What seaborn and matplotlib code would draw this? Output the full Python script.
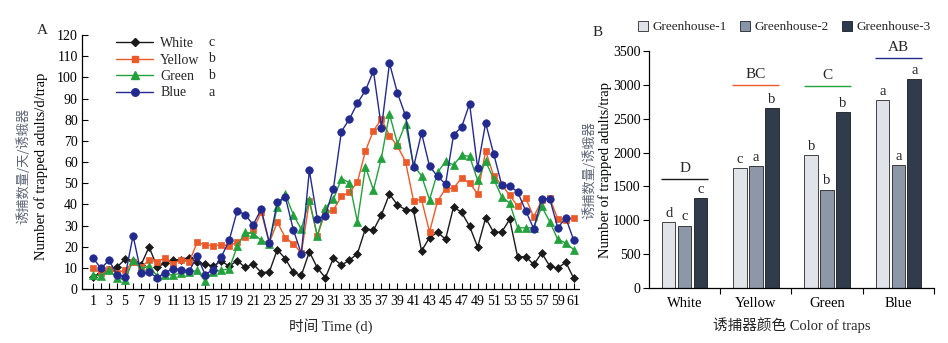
import matplotlib
matplotlib.use("Agg")
import matplotlib.pyplot as plt
import numpy as np
import pandas as pd
import seaborn as sns
from matplotlib.lines import Line2D
from matplotlib.patches import Patch

# ---------------- data: panel A (daily catches) ----------------
days = list(range(1, 62))
white = [5.8, 7.8, 9.0, 10.4, 14.0, 13.4, 11.4, 19.9, 10.5, 12.1,
         13.7, 13.9, 14.8, 12.7, 11.7, 10.8, 13.2, 10.8, 13.4, 10.2,
         11.8, 7.8, 8.0, 18.6, 14.3, 7.9, 6.4, 17.6, 10.0, 5.3,
         14.5, 11.3, 13.6, 16.7, 28.5, 27.8, 35.1, 44.9, 39.7, 37.5,
         37.1, 18.0, 24.3, 26.8, 23.5, 38.8, 36.2, 29.6, 19.8, 33.5,
         26.8, 26.9, 32.9, 15.1, 15.3, 11.6, 17.0, 10.8, 9.8, 12.7, 5.0]
yellow = [10.0, 7.4, 9.4, 7.6, 9.0, 12.7, 10.2, 13.7, 12.9, 14.7,
          12.0, 13.9, 12.7, 22.0, 20.9, 20.4, 21.0, 20.4, 22.2, 24.6,
          28.0, 36.3, 21.8, 31.6, 24.3, 21.4, 17.0, 41.5, 25.0, 36.5,
          37.3, 43.8, 45.7, 50.5, 65.2, 74.8, 80.2, 72.5, 67.5, 60.2,
          41.7, 42.3, 27.0, 41.5, 47.4, 47.7, 52.4, 50.0, 45.0, 65.2,
          53.5, 49.3, 44.3, 39.1, 43.0, 34.0, 41.9, 43.0, 33.1, 32.5, 33.6]
green = [6.8, 6.2, 8.8, 5.3, 4.3, 13.6, 9.5, 10.9, 6.2, 6.4,
         6.8, 7.4, 8.0, 8.8, 3.7, 8.0, 8.9, 9.5, 20.2, 26.8,
         26.2, 23.0, 21.5, 38.8, 44.8, 35.1, 28.2, 42.0, 25.0, 38.5,
         42.3, 52.2, 50.2, 31.8, 57.7, 46.8, 62.1, 82.7, 68.6, 78.0,
         58.7, 53.4, 42.2, 55.1, 60.3, 58.7, 63.1, 62.7, 51.3, 60.3,
         52.0, 43.6, 40.6, 28.9, 28.9, 28.9, 39.0, 31.8, 23.4, 21.8, 18.6]
blue = [14.7, 9.7, 13.6, 6.8, 5.8, 25.2, 7.6, 8.0, 5.3, 7.8,
        9.5, 9.2, 8.4, 15.5, 6.8, 9.2, 15.0, 23.0, 37.0, 35.0,
        30.4, 37.8, 21.8, 41.0, 43.5, 28.0, 16.7, 56.0, 33.0, 34.7,
        47.3, 74.4, 80.3, 87.8, 93.8, 103.0, 76.0, 106.7, 92.5, 82.0,
        57.6, 73.7, 58.0, 53.2, 49.6, 72.9, 76.5, 87.5, 57.2, 78.4,
        63.9, 49.3, 48.8, 45.8, 37.0, 28.5, 42.6, 42.6, 28.9, 33.6, 23.0]
trap_names = ["White", "Yellow", "Green", "Blue"]
line_letters = ["c", "b", "b", "a"]

# ---------------- data: panel B (totals per greenhouse) ----------------
greenhouses = ["Greenhouse-1", "Greenhouse-2", "Greenhouse-3"]
gh1 = [972, 1767, 1959, 2769]
gh2 = [923, 1797, 1453, 1811]
gh3 = [1325, 2651, 2592, 3078]
bar_letters = [["d", "c", "b", "a"],
               ["c", "a", "b", "a"],
               ["c", "b", "b", "a"]]
group_letters = ["D", "BC", "C", "AB"]
group_line_y = [1605, 2990, 2975, 3387]

# ---------------- style ----------------
sns.set_theme(style="ticks")
plt.rcParams["font.family"] = ["Liberation Serif", "Noto Sans CJK SC", "DejaVu Sans"]
plt.rcParams["axes.edgecolor"] = "black"
plt.rcParams["xtick.color"] = "black"
plt.rcParams["ytick.color"] = "black"
plt.rcParams["axes.linewidth"] = 0.9

line_colors = {"White": "#1a1a1a", "Yellow": "#ec5a2a", "Green": "#22a13c", "Blue": "#232a8e"}
line_markers = {"White": "D", "Yellow": "s", "Green": "^", "Blue": "o"}
line_msize = {"White": 3.6, "Yellow": 5.0, "Green": 5.6, "Blue": 5.4}
bar_palette = ["#dfe2e9", "#8896ab", "#2c3a4f"]
cjk_label_color = "#5f6678"

fig = plt.figure(figsize=(9.48, 3.43), dpi=100)
axA = fig.add_axes([0.0865, 0.1574, 0.524, 0.7405])
axB = fig.add_axes([0.6846, 0.1595, 0.3006, 0.6925])

# ---------------- panel A ----------------
dfA = pd.DataFrame({
    "day": days * 4,
    "count": white + yellow + green + blue,
    "trap": sum([[n] * len(days) for n in trap_names], []),
})
for name in trap_names:
    sub = dfA[dfA["trap"] == name]
    sns.lineplot(data=sub, x="day", y="count", ax=axA, color=line_colors[name],
                 marker=line_markers[name], markersize=line_msize[name],
                 markeredgecolor=line_colors[name], markeredgewidth=0.5,
                 linewidth=1.0, legend=False)

axA.set_xlim(-0.37, 61.62)
axA.set_ylim(0, 120)
axA.set_yticks(np.arange(0, 121, 10))
axA.set_xticks(np.arange(1, 62, 2))
axA.set_xticks(np.arange(1, 62, 1), minor=True)
axA.tick_params(axis="both", which="major", direction="in", length=4, width=0.8,
                labelsize=10, pad=3)
axA.tick_params(axis="x", which="minor", direction="in", length=4, width=0.8)
axA.tick_params(axis="x", which="major", pad=4)
sns.despine(ax=axA)
axA.set_xlabel("时间 Time (d)", fontsize=10.5, labelpad=8)
axA.set_ylabel("")

handles = [Line2D([0], [0], color=line_colors[n], marker=line_markers[n],
                  markersize=line_msize[n], markeredgecolor=line_colors[n], lw=1.0)
           for n in trap_names]
legA = axA.legend(handles, trap_names, loc="upper left", bbox_to_anchor=(0.068, 0.992),
                  frameon=False, fontsize=10, handlelength=2.7, handletextpad=0.5,
                  labelspacing=0.25, borderpad=0, borderaxespad=0)

# significance letters beside the legend rows (rows at 42, 58.7, 75.3, 92 px)
for k, letter in enumerate(line_letters):
    ypix = 42 + k * 16.7
    axA.text((212 - 82) / 497, (289 - ypix) / 254, letter, ha="center", va="center",
             fontsize=10, transform=axA.transAxes)

fig.text(24 / 948, 1 - 166 / 343, "诱捕数量/天/诱蛾器", rotation=90, ha="center", va="center",
         fontsize=9.5, color=cjk_label_color, family=["Noto Sans CJK SC"])
fig.text(41 / 948, 1 - 166 / 343, "Number of trapped adults/d/trap", rotation=90,
         ha="center", va="center", fontsize=10.5, color="black")
fig.text(42 / 948, 1 - 31 / 343, "A", ha="center", va="center", fontsize=11)

# ---------------- panel B ----------------
dfB = pd.DataFrame({
    "trap": trap_names * 3,
    "count": gh1 + gh2 + gh3,
    "greenhouse": sum([[g] * 4 for g in greenhouses], []),
})
sns.barplot(data=dfB, x="trap", y="count", hue="greenhouse", order=trap_names,
            hue_order=greenhouses, palette=bar_palette, width=0.67, gap=0.15,
            edgecolor="black", linewidth=0.5, ax=axB, legend=False)
for cont, labs in zip(axB.containers, bar_letters):
    axB.bar_label(cont, labels=labs, padding=2, fontsize=10.5)

for i, (lab, ly) in enumerate(zip(group_letters, group_line_y)):
    axB.hlines(ly, i - 0.33, i + 0.33, colors=list(line_colors.values())[i], lw=1.0,
               clip_on=False)
    axB.text(i, ly + 70, lab, ha="center", va="bottom", fontsize=11, clip_on=False)

axB.set_xlim(-0.5, 3.5)
axB.set_ylim(0, 3500)
axB.set_yticks(np.arange(0, 3501, 500))
axB.set_xticks([0.5, 1.5, 2.5, 3.5], minor=True)
axB.tick_params(axis="y", which="major", direction="out", length=4, width=0.8,
                labelsize=10, pad=2)
axB.tick_params(axis="x", which="major", length=0, labelsize=10.5, pad=6)
axB.tick_params(axis="x", which="minor", direction="out", length=4, width=0.8)
sns.despine(ax=axB)
axB.set_xlabel("诱捕器颜色 Color of traps", fontsize=10.5, labelpad=5)
axB.set_ylabel("")

fig.text(590 / 948, 1 - 170 / 343, "诱捕数量/诱蛾器", rotation=90, ha="center", va="center",
         fontsize=9.5, color=cjk_label_color, family=["Noto Sans CJK SC"])
fig.text(605 / 948, 1 - 170 / 343, "Number of trapped adults/trap", rotation=90,
         ha="center", va="center", fontsize=10.5, color="black")
fig.text(598 / 948, 1 - 32 / 343, "B", ha="center", va="center", fontsize=11)

patch_handles = [Patch(facecolor=c, edgecolor="black", linewidth=0.5) for c in bar_palette]
fig.legend(patch_handles, greenhouses, ncol=3, loc="center",
           bbox_to_anchor=(784 / 948, 1 - 27 / 343), frameon=False, fontsize=9.5,
           handlelength=0.8, handleheight=0.8, handletextpad=0.3, columnspacing=1.0,
           borderpad=0)

fig.savefig("out.png", dpi=100)
